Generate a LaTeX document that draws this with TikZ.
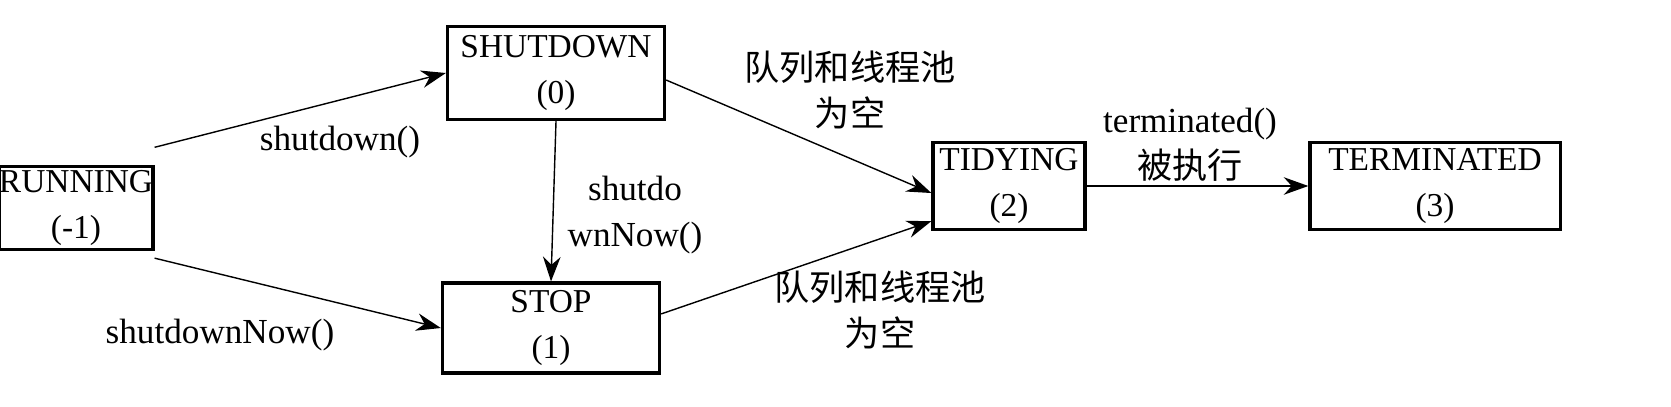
\documentclass[tikz,border=0pt]{standalone}
\usepackage{fontspec}
\setmainfont{Liberation Serif}
\newfontfamily\cjk{Noto Sans CJK SC}
\usetikzlibrary{positioning,arrows.meta}
\begin{document}
\begin{tikzpicture}[
    x=0.01cm, y=-0.01cm,
    >={Stealth[length=7pt,width=5pt]},
    statebox/.style={draw, line width=0.9pt, align=center, font=\fontsize{9.5}{13}\selectfont, inner sep=0pt},
    lbl/.style={align=center, font=\fontsize{10}{13}\selectfont}
]
    \useasboundingbox (0,0) rectangle (1671,406);
    % states
    \node[statebox, minimum width=1.44cm, minimum height=0.83cm] (run) at (76,208) {RUNNING\\(-1)};
    \node[statebox, minimum width=2.17cm, minimum height=0.93cm] (shut) at (556,73) {SHUTDOWN\\(0)};
    \node[statebox, minimum width=2.17cm, minimum height=0.9cm] (stop) at (551,328) {STOP\\(1)};
    \node[statebox, minimum width=1.52cm, minimum height=0.87cm] (tidy) at (1009,186) {TIDYING\\(2)};
    \node[statebox, minimum width=2.5cm, minimum height=0.87cm] (term) at (1435,186) {TERMINATED\\(3)};

    \draw[->] ([yshift=5pt]run.north east) -- (shut.west);
    \node[lbl] (lshut) at (340,142) {shutdown()};
    \draw[->] ([yshift=-2pt]run.south east) -- (stop.west);
    \node[lbl] (lnow) at (220,335) {shutdownNow()};
    \draw[->] (shut.south) -- (stop.north);
    \node[lbl] (lshutnow) at (635,215) {shutdo\\wnNow()};
    \draw[->] ([yshift=-2pt]shut.east) -- ([yshift=-2pt]tidy.west);
    \node[lbl] (lq1) at (850,90) {\cjk 队列和线程池\\\cjk 为空};
    \draw[->] ([yshift=4pt]stop.east) -- ([yshift=-10pt]tidy.west);
    \node[lbl] (lq2) at (880,310) {\cjk 队列和线程池\\\cjk 为空};
    \draw[->] (tidy.east) -- (term.west);
    \node[lbl] (lterm) at (1190,145) {terminated()\\\cjk 被执行};
\end{tikzpicture}
\end{document}
